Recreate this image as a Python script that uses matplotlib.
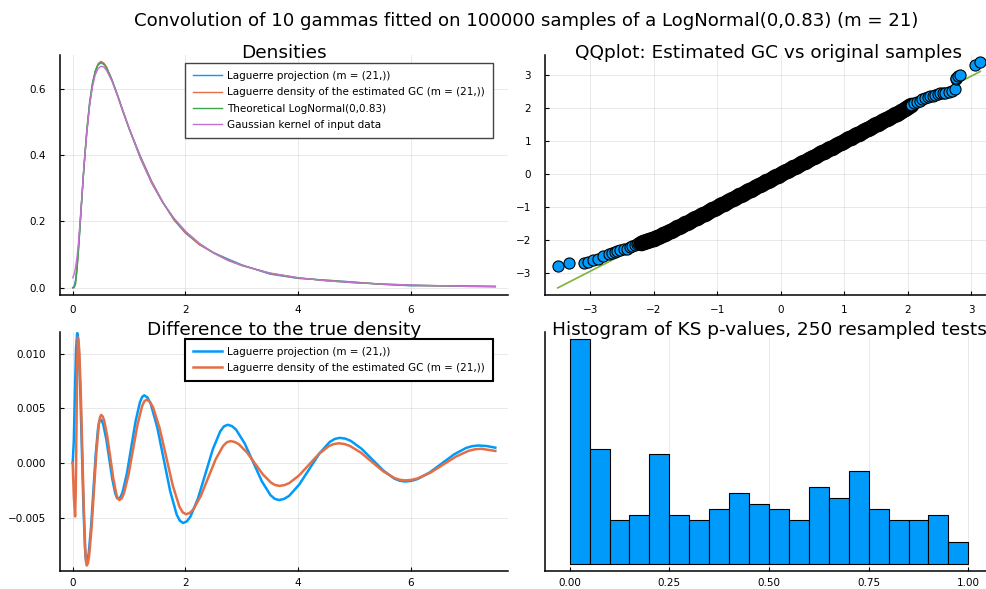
import numpy as np
import matplotlib
matplotlib.use("Agg")
import matplotlib.pyplot as plt

# ---- data ----
# Densities panel (shared x grid)
dens_x = [0.0, 0.025, 0.05, 0.075, 0.1, 0.125, 0.15, 0.2, 0.25, 0.3, 0.35, 0.4, 0.45, 0.5,
          0.55, 0.6, 0.7, 0.8, 0.9, 1.0, 1.2, 1.4, 1.6, 1.8, 2.0, 2.25, 2.5, 2.75, 3.0,
          3.5, 4.0, 4.5, 5.0, 5.5, 6.0, 6.5, 7.0, 7.5]
dens_projection = [0.0, 0.0035, 0.0225, 0.061, 0.114, 0.1745, 0.2385, 0.362, 0.467, 0.5525,
                   0.6125, 0.652, 0.6745, 0.682, 0.677, 0.665, 0.625, 0.577, 0.528, 0.481,
                   0.397, 0.321, 0.258, 0.204, 0.165, 0.130, 0.106, 0.087, 0.069, 0.041,
                   0.028, 0.023, 0.017, 0.010, 0.006, 0.006, 0.005, 0.004]
dens_gc = [0.0, 0.0, 0.010, 0.056, 0.114, 0.1755, 0.2397, 0.3635, 0.4666, 0.5518, 0.6118,
           0.6515, 0.6747, 0.6824, 0.678, 0.6657, 0.6252, 0.5768, 0.5272, 0.4804, 0.396,
           0.3213, 0.258, 0.2048, 0.1653, 0.1297, 0.1048, 0.0849, 0.0681, 0.0423, 0.0288,
           0.0223, 0.0164, 0.0104, 0.0065, 0.0058, 0.0049, 0.0041]
dens_theoretical = [0.0, 0.001, 0.014, 0.049, 0.103, 0.167, 0.235, 0.367, 0.476, 0.560, 0.617,
                    0.653, 0.672, 0.678, 0.674, 0.663, 0.626, 0.580, 0.530, 0.481, 0.391,
                    0.316, 0.256, 0.208, 0.170, 0.133, 0.105, 0.083, 0.067, 0.044, 0.030,
                    0.021, 0.015, 0.011, 0.008, 0.006, 0.004, 0.003]
dens_kernel = [0.030, 0.040, 0.060, 0.090, 0.130, 0.185, 0.245, 0.365, 0.470, 0.550, 0.605,
               0.642, 0.661, 0.668, 0.666, 0.656, 0.622, 0.578, 0.530, 0.482, 0.392, 0.317,
               0.257, 0.209, 0.170, 0.133, 0.105, 0.083, 0.067, 0.044, 0.030, 0.021, 0.015,
               0.011, 0.008, 0.006, 0.004, 0.003]

# Difference panel
diff_proj_x = [0.0, 0.02, 0.04, 0.06, 0.08, 0.0938,
               0.1075, 0.135, 0.1625, 0.19, 0.2175, 0.2312, 0.245, 0.2654,
               0.2858, 0.3267, 0.3675, 0.4083, 0.4492, 0.4696, 0.49, 0.5167,
               0.5433, 0.5967, 0.65, 0.7033, 0.7567, 0.7833, 0.81, 0.8483,
               0.8867, 0.9633, 1.04, 1.1167, 1.1933, 1.2317, 1.27, 1.3275,
               1.385, 1.5, 1.615, 1.73, 1.845, 1.9025, 1.96, 2.0258,
               2.0917, 2.2233, 2.355, 2.4867, 2.6183, 2.6842, 2.75, 2.8258,
               2.9017, 3.0533, 3.205, 3.3567, 3.5083, 3.5842, 3.66, 3.75,
               3.84, 4.02, 4.2, 4.38, 4.56, 4.65, 4.74, 4.8367,
               4.9333, 5.1267, 5.32, 5.5133, 5.7067, 5.8033, 5.9, 6.0083,
               6.1167, 6.3333, 6.55, 6.7667, 6.9833, 7.0917, 7.2,
               7.35, 7.5]
diff_proj_y = [0.0, 0.002, 0.0065, 0.0105, 0.0119, 0.01154,
               0.0105, 0.00665, 0.0014, -0.00385, -0.0077, -0.00874, -0.0091, -0.00888,
               -0.00822, -0.00583, -0.00255, 0.00073, 0.00312, 0.00378, 0.0040, 0.00388,
               0.00351, 0.00218, 0.00035, -0.00148, -0.00281, -0.00318, -0.0033, -0.00314,
               -0.00266, -0.00093, 0.00145, 0.00383, 0.00556, 0.00604, 0.0062, 0.0060,
               0.00542, 0.00328, 0.00035, -0.00258, -0.00472, -0.0053, -0.0055, -0.00535,
               -0.0049, -0.00325, -0.0010, 0.00125, 0.0029, 0.00335, 0.0035, 0.00338,
               0.00304, 0.00178, 0.00005, -0.00168, -0.00294, -0.00328, -0.0034, -0.0033,
               -0.00302, -0.00198, -0.00055, 0.00088, 0.00192, 0.0022, 0.0023, 0.00223,
               0.00203, 0.0013, 0.0003, -0.0007, -0.00143, -0.00163, -0.0017, -0.00164,
               -0.00148, -0.00088, -0.00005, 0.00078, 0.00138, 0.00154, 0.0016,
               0.00155, 0.0014]
diff_gc_x = [0.0, 0.02, 0.043, 0.0552, 0.0675, 0.0798, 0.092, 0.1052,
             0.1183, 0.1447, 0.171, 0.1973, 0.2237, 0.2368, 0.25, 0.2713,
             0.2925, 0.335, 0.3775, 0.42, 0.4625, 0.4838, 0.505, 0.5321,
             0.5592, 0.6133, 0.6675, 0.7217, 0.7758, 0.8029, 0.83, 0.87,
             0.91, 0.99, 1.07, 1.15, 1.23, 1.27, 1.31, 1.3683,
             1.4267, 1.5433, 1.66, 1.7767, 1.8933, 1.9517, 2.01, 2.0758,
             2.1417, 2.2733, 2.405, 2.5367, 2.6683, 2.7342, 2.8, 2.8725,
             2.945, 3.09, 3.235, 3.38, 3.525, 3.5975, 3.67, 3.7575,
             3.845, 4.02, 4.195, 4.37, 4.545, 4.6325, 4.72, 4.8183,
             4.9167, 5.1133, 5.31, 5.5067, 5.7033, 5.8017, 5.9, 6.0125,
             6.125, 6.35, 6.575, 6.8, 7.025, 7.1375, 7.25,
             7.5]
diff_gc_y = [0.0, -0.003, -0.0049, -0.0025, 0.0033, 0.0091, 0.0115, 0.01114,
             0.0101, 0.00628, 0.00105, -0.00418, -0.008, -0.00904, -0.0094, -0.00917,
             -0.00848, -0.00595, -0.0025, 0.00095, 0.00348, 0.00417, 0.0044, 0.00427,
             0.00388, 0.00245, 0.0005, -0.00145, -0.00288, -0.00327, -0.0034, -0.00324,
             -0.00278, -0.0011, 0.0012, 0.0035, 0.00518, 0.00564, 0.0058, 0.00562,
             0.0051, 0.00318, 0.00055, -0.00208, -0.0040, -0.00452, -0.0047, -0.00459,
             -0.00425, -0.00303, -0.00135, 0.00033, 0.00155, 0.00189, 0.0020, 0.00193,
             0.00173, 0.00098, -0.00005, -0.00108, -0.00183, -0.00203, -0.0021, -0.00203,
             -0.00184, -0.00113, -0.00015, 0.00083, 0.00154, 0.00173, 0.0018, 0.00174,
             0.00157, 0.00095, 0.0001, -0.00075, -0.00137, -0.00154, -0.0016, -0.00155,
             -0.00141, -0.00088, -0.00015, 0.00058, 0.00111, 0.00125, 0.0013,
             0.0011]

# QQ plot: lower tail, dense middle, upper tail
qq_lower_x = [-3.51, -3.33, -3.09, -3.03, -2.95, -2.87, -2.79, -2.71, -2.66, -2.61, -2.57,
              -2.53, -2.47, -2.42, -2.38, -2.34, -2.30, -2.27, -2.24]
qq_lower_y = [-2.79, -2.71, -2.70, -2.66, -2.61, -2.56, -2.49, -2.43, -2.40, -2.36, -2.33,
              -2.31, -2.28, -2.26, -2.22, -2.19, -2.15, -2.12, -2.09]
qq_mid_x = [
    -2.200, -2.175, -2.150, -2.125, -2.100, -2.075, -2.050, -2.025, -2.000, -1.975,
    -1.950, -1.925, -1.900, -1.875, -1.850, -1.825, -1.800, -1.775, -1.750, -1.725,
    -1.700, -1.675, -1.650, -1.625, -1.600, -1.575, -1.550, -1.525, -1.500, -1.475,
    -1.450, -1.425, -1.400, -1.375, -1.350, -1.325, -1.300, -1.275, -1.250, -1.225,
    -1.200, -1.175, -1.150, -1.125, -1.100, -1.075, -1.050, -1.025, -1.000, -0.975,
    -0.950, -0.925, -0.900, -0.875, -0.850, -0.825, -0.800, -0.775, -0.750, -0.725,
    -0.700, -0.675, -0.650, -0.625, -0.600, -0.575, -0.550, -0.525, -0.500, -0.475,
    -0.450, -0.425, -0.400, -0.375, -0.350, -0.325, -0.300, -0.275, -0.250, -0.225,
    -0.200, -0.175, -0.150, -0.125, -0.100, -0.075, -0.050, -0.025, 0.000, 0.025,
    0.050, 0.075, 0.100, 0.125, 0.150, 0.175, 0.200, 0.225, 0.250, 0.275,
    0.300, 0.325, 0.350, 0.375, 0.400, 0.425, 0.450, 0.475, 0.500, 0.525,
    0.550, 0.575, 0.600, 0.625, 0.650, 0.675, 0.700, 0.725, 0.750, 0.775,
    0.800, 0.825, 0.850, 0.875, 0.900, 0.925, 0.950, 0.975, 1.000, 1.025,
    1.050, 1.075, 1.100, 1.125, 1.150, 1.175, 1.200, 1.225, 1.250, 1.275,
    1.300, 1.325, 1.350, 1.375, 1.400, 1.425, 1.450, 1.475, 1.500, 1.525,
    1.550, 1.575, 1.600, 1.625, 1.650, 1.675, 1.700, 1.725, 1.750, 1.775,
    1.800, 1.825, 1.850, 1.875, 1.900, 1.925, 1.950, 1.975, 2.000, 2.025,
    2.050]
qq_mid_y = [
    -2.080, -2.065, -2.050, -2.035, -2.020, -2.005, -1.990, -1.975, -1.960, -1.940,
    -1.920, -1.895, -1.875, -1.855, -1.830, -1.805, -1.780, -1.765, -1.740, -1.715,
    -1.690, -1.665, -1.640, -1.615, -1.590, -1.570, -1.545, -1.520, -1.495, -1.470,
    -1.445, -1.420, -1.395, -1.370, -1.345, -1.320, -1.295, -1.270, -1.245, -1.220,
    -1.195, -1.170, -1.145, -1.120, -1.095, -1.070, -1.045, -1.020, -0.995, -0.970,
    -0.945, -0.920, -0.895, -0.870, -0.845, -0.820, -0.795, -0.770, -0.745, -0.720,
    -0.695, -0.670, -0.645, -0.620, -0.595, -0.570, -0.545, -0.520, -0.495, -0.470,
    -0.445, -0.420, -0.395, -0.370, -0.345, -0.320, -0.295, -0.270, -0.245, -0.220,
    -0.195, -0.170, -0.145, -0.120, -0.095, -0.070, -0.045, -0.020, 0.005, 0.030,
    0.055, 0.080, 0.105, 0.130, 0.155, 0.180, 0.205, 0.230, 0.255, 0.280,
    0.305, 0.330, 0.355, 0.380, 0.405, 0.430, 0.455, 0.480, 0.505, 0.530,
    0.555, 0.580, 0.605, 0.630, 0.655, 0.680, 0.705, 0.730, 0.755, 0.780,
    0.805, 0.830, 0.855, 0.880, 0.905, 0.930, 0.955, 0.980, 1.005, 1.030,
    1.055, 1.080, 1.105, 1.130, 1.155, 1.180, 1.205, 1.230, 1.255, 1.280,
    1.305, 1.330, 1.355, 1.380, 1.405, 1.430, 1.455, 1.480, 1.505, 1.530,
    1.555, 1.580, 1.605, 1.630, 1.655, 1.680, 1.705, 1.730, 1.760, 1.785,
    1.810, 1.835, 1.860, 1.890, 1.915, 1.940, 1.970, 1.995, 2.025, 2.050,
    2.080]
qq_upper_x = [2.09, 2.14, 2.19, 2.23, 2.27, 2.31, 2.35, 2.39, 2.43, 2.47, 2.51, 2.55, 2.59,
              2.64, 2.69, 2.74, 2.75, 2.76, 2.79, 2.82, 3.06, 3.14]
qq_upper_y = [2.15, 2.19, 2.23, 2.27, 2.30, 2.34, 2.37, 2.38, 2.40, 2.42, 2.45, 2.46, 2.47,
              2.50, 2.53, 2.57, 2.88, 2.91, 2.96, 3.01, 3.31, 3.40]
qq_line_x = [-3.51, 3.14]
qq_line_y = [-3.45, 3.11]

# Histogram of KS p-values (20 bins on [0, 1], 250 tests)
pval_counts = [41, 21, 8, 9, 20, 9, 8, 10, 13, 11, 10, 8, 14, 12, 17, 10, 8, 8, 9, 4]
pval_edges = np.linspace(0.0, 1.0, len(pval_counts) + 1)

m_label = "(m = (21,))"
labels_dens = [f"Laguerre projection {m_label}",
               f"Laguerre density of the estimated GC {m_label}",
               "Theoretical LogNormal(0,0.83)",
               "Gaussian kernel of input data"]
suptitle = "Convolution of 10 gammas fitted on 100000 samples of a LogNormal(0,0.83) (m = 21)"

# Plots.jl default palette
C_BLUE = "#009AFA"
C_ORANGE = "#E36F47"
C_GREEN = "#3EA44E"
C_PURPLE = "#C371D2"
C_QQLINE = "#7BB33C"

plt.rcParams["font.family"] = ["DejaVu Sans"]
TICK_FS = 7.5
LEG_FS = 7.5
TITLE_FS = 13.3

W, H = 987, 589
fig = plt.figure(figsize=(W / 100, H / 100), dpi=100)


def px_axes(left, top, right, bottom):
    return fig.add_axes([left / W, 1 - bottom / H, (right - left) / W, (bottom - top) / H])


def fmt(decimals):
    # fixed decimals with a real minus sign, like the reference
    return matplotlib.ticker.FuncFormatter(
        lambda v, _: f"{v:.{decimals}f}".replace("-", "\u2212"))


def style(ax, title, xpad=7.5):
    for side in ("top", "right"):
        ax.spines[side].set_visible(False)
    for side in ("left", "bottom"):
        ax.spines[side].set_linewidth(1.1)
    ax.tick_params(direction="in", length=3, width=0.8, labelsize=TICK_FS)
    ax.tick_params(axis="x", pad=xpad)
    ax.tick_params(axis="y", pad=10)
    ax.grid(True, color="black", alpha=0.1, linewidth=0.6)
    ax.set_axisbelow(True)
    # explicit y keeps matplotlib from pushing the title above the axes
    ax.set_title(title, fontsize=TITLE_FS, y=1.0, pad=-2.2)


def add_legend(ax, anchor, edge, lw):
    leg = ax.legend(loc="upper right", bbox_to_anchor=anchor, borderaxespad=0,
                    fontsize=LEG_FS, fancybox=False, framealpha=1, edgecolor=edge,
                    handlelength=2.8, handletextpad=0.5, labelspacing=0.6, borderpad=0.75)
    leg.get_frame().set_linewidth(lw)


ax1 = px_axes(60, 55, 508, 294.5)
ax2 = px_axes(545, 55, 993, 294.5)
ax3 = px_axes(60, 332, 508, 571)
ax4 = px_axes(545, 332, 993, 571)

# --- Densities ---
ax1.plot(dens_x, dens_projection, color=C_BLUE, lw=1.0, label=labels_dens[0])
ax1.plot(dens_x, dens_gc, color=C_ORANGE, lw=1.0, label=labels_dens[1])
ax1.plot(dens_x, dens_theoretical, color=C_GREEN, lw=1.0, label=labels_dens[2])
ax1.plot(dens_x, dens_kernel, color=C_PURPLE, lw=1.0, label=labels_dens[3])
ax1.set_xlim(-0.225, 7.725)
ax1.set_ylim(-0.0205, 0.702)
ax1.set_xticks([0, 2, 4, 6])
ax1.set_yticks([0.0, 0.2, 0.4, 0.6])
ax1.yaxis.set_major_formatter(fmt(1))
style(ax1, "Densities")
add_legend(ax1, (0.9665, 0.9653), "#444444", 1.0)

# --- QQ plot ---
ax2.plot(qq_line_x, qq_line_y, color=C_QQLINE, lw=1.2, zorder=2)
ax2.plot(qq_lower_x, qq_lower_y, "o", ls="none", ms=8, mfc=C_BLUE, mec="black", mew=0.8, zorder=3)
ax2.plot(qq_mid_x, qq_mid_y, "o", ls="none", ms=9, mfc=C_BLUE, mec="black", mew=2.2, zorder=3)
ax2.plot(qq_upper_x, qq_upper_y, "o", ls="none", ms=8, mfc=C_BLUE, mec="black", mew=0.8, zorder=3)
ax2.set_xlim(-3.71, 3.34)
ax2.set_ylim(-3.65, 3.61)
ax2.set_xticks([-3, -2, -1, 0, 1, 2, 3])
ax2.set_yticks([-3, -2, -1, 0, 1, 2, 3])
ax2.xaxis.set_major_formatter(fmt(0))
ax2.yaxis.set_major_formatter(fmt(0))
style(ax2, "QQplot: Estimated GC vs original samples")

# --- Difference to true density ---
ax3.plot(diff_proj_x, diff_proj_y, color=C_BLUE, lw=1.8, label=labels_dens[0],
         solid_joinstyle="round")
ax3.plot(diff_gc_x, diff_gc_y, color=C_ORANGE, lw=1.8, label=labels_dens[1],
         solid_joinstyle="round")
ax3.set_xlim(-0.225, 7.725)
ax3.set_ylim(-0.0099, 0.0120)
ax3.set_xticks([0, 2, 4, 6])
ax3.set_yticks([-0.005, 0.0, 0.005, 0.010])
ax3.yaxis.set_major_formatter(fmt(3))
style(ax3, "Difference to the true density", xpad=5)
add_legend(ax3, (0.9665, 0.9707), "black", 1.5)

# --- Histogram of KS p-values ---
ax4.hist(pval_edges[:-1], bins=pval_edges, weights=pval_counts, color=C_BLUE,
         edgecolor="black", linewidth=0.8)
ax4.set_xlim(-0.062, 1.062)
ax4.set_ylim(-1.23, 42.23)
ax4.set_xticks([0, 0.25, 0.5, 0.75, 1.0])
ax4.xaxis.set_major_formatter(fmt(2))
ax4.set_yticks([])
style(ax4, "Histogram of KS p-values, 250 resampled tests", xpad=5)

fig.text(526 / W, 1 - 21 / H, suptitle, fontsize=13.1, ha="center", va="center")

fig.savefig("out.png", dpi=100, facecolor="white")
